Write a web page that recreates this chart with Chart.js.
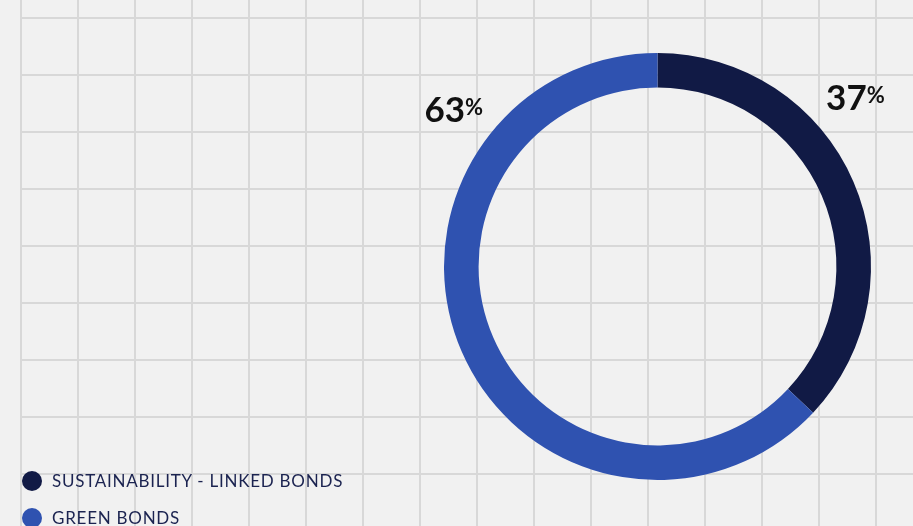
<!DOCTYPE html>
<html>
<head>
<meta charset="utf-8">
<script src="https://cdn.jsdelivr.net/npm/chart.js@4"></script>
<style>
    html, body {
        margin: 0;
        padding: 0;
        background: #f1f1f1;
        overflow: hidden;
    }

    #wrap {
        position: relative;
        width: 913px;
        height: 526px;
    }

    #legend {
        position: absolute;
        left: 22px;
        top: 462px;
        margin: 0;
        padding: 0;
        list-style: none;
        font-family: "Lato", sans-serif;
        font-size: 17px;
        color: #1b2350;
        letter-spacing: 0.75px;
    }

    #legend li {
        display: flex;
        align-items: center;
        height: 37px;
    }

    #legend .dot {
        width: 20px;
        height: 20px;
        border-radius: 50%;
        margin-right: 10px;
    }
</style>
</head>
<body>
<div id="wrap">
    <canvas id="bondChart" width="913" height="526"></canvas>
    <ul id="legend"></ul>
</div>

<script>
const bondLabels = ["SUSTAINABILITY - LINKED BONDS", "GREEN BONDS"];
const bondShares = [37, 63];
const bondColors = ["#111a45", "#2f52b0"];

// Light square grid behind everything
const gridBackground = {
    id: "gridBackground",
    beforeDraw(chart) {
        const { ctx, width, height } = chart;
        ctx.save();
        ctx.fillStyle = "#f1f1f1";
        ctx.fillRect(0, 0, width, height);
        ctx.strokeStyle = "#d8d8d8";
        ctx.lineWidth = 2;
        ctx.beginPath();
        for (let x = 21; x < width; x += 57) {
            ctx.moveTo(x, 0);
            ctx.lineTo(x, height);
        }
        for (let y = 18; y < height; y += 57) {
            ctx.moveTo(20, y);
            ctx.lineTo(width, y);
        }
        ctx.stroke();
        ctx.restore();
    }
};

// Percent labels sitting outside the ring, either side of the top seam
const percentLabels = {
    id: "percentLabels",
    afterDatasetsDraw(chart) {
        const { ctx } = chart;
        const arcs = chart.getDatasetMeta(0).data;
        const values = chart.data.datasets[0].data;
        ctx.save();
        ctx.fillStyle = "#111111";
        ctx.textBaseline = "alphabetic";
        arcs.forEach((arc, i) => {
            const angle = i === 0 ? arc.startAngle + 0.86 : arc.endAngle - 0.92;
            const r = arc.outerRadius + 45;
            const cx = arc.x + Math.cos(angle) * r;
            const cy = arc.y + Math.sin(angle) * r;

            const num = String(values[i]);
            ctx.font = "bold 35px Lato, sans-serif";
            const numW = ctx.measureText(num).width;
            ctx.font = "bold 22px Lato, sans-serif";
            const pctW = ctx.measureText("%").width;
            const left = cx - (numW + pctW) / 2 + 2;

            ctx.font = "bold 35px Lato, sans-serif";
            ctx.fillText(num, left, cy + 12);
            ctx.font = "bold 22px Lato, sans-serif";
            ctx.fillText("%", left + numW, cy + 5);
        });
        ctx.restore();
    }
};

const bondChart = new Chart(document.getElementById("bondChart"), {
    type: "doughnut",
    data: {
        labels: bondLabels,
        datasets: [{
            data: bondShares,
            backgroundColor: bondColors,
            borderWidth: 0,
            hoverOffset: 0
        }]
    },
    options: {
        responsive: false,
        animation: false,
        cutout: "83.8%",
        layout: {
            padding: { left: 444, right: 42, top: 53, bottom: 46 }
        },
        plugins: {
            legend: { display: false },
            tooltip: { enabled: false }
        }
    },
    plugins: [gridBackground, percentLabels]
});

// Legend list built from the chart's own labels and colours
const legendEl = document.getElementById("legend");
bondChart.data.labels.forEach((label, i) => {
    const li = document.createElement("li");
    const dot = document.createElement("span");
    dot.className = "dot";
    dot.style.background = bondChart.data.datasets[0].backgroundColor[i];
    li.appendChild(dot);
    li.appendChild(document.createTextNode(label));
    legendEl.appendChild(li);
});
</script>
</body>
</html>
